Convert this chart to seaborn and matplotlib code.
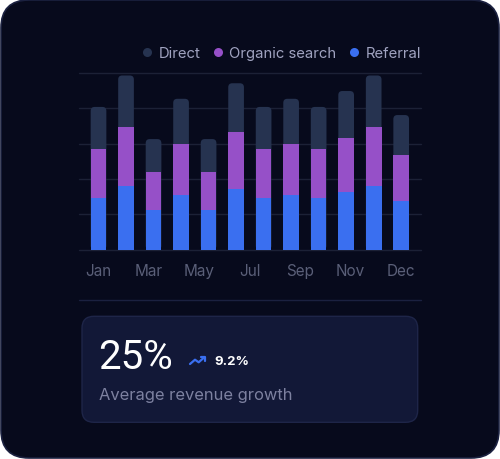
"""Traffic sources by month: stacked bars on a dark card, with a KPI tile below."""

import matplotlib

matplotlib.use("Agg")

import matplotlib.pyplot as plt
import numpy as np
import seaborn as sns
from matplotlib.lines import Line2D
from matplotlib.patches import FancyBboxPatch

MONTHS = ["Jan", "Feb", "Mar", "Apr", "May", "Jun",
          "Jul", "Aug", "Sep", "Oct", "Nov", "Dec"]
TICK_LABELS = ["Jan", "Mar", "May", "Jul", "Sep", "Nov", "Dec"]
REFERRAL = [14.6, 18.0, 11.2, 15.5, 11.2, 17.2, 14.6, 15.5, 14.6, 16.3, 18.0, 13.7]
ORGANIC = [13.8, 16.8, 10.7, 14.4, 10.7, 16.0, 13.8, 14.4, 13.8, 15.3, 16.8, 13.1]
DIRECT = [12.0, 14.5, 9.4, 12.8, 9.4, 13.9, 12.0, 12.8, 12.0, 13.3, 14.5, 11.3]
SERIES = ["Direct", "Organic search", "Referral"]
KPI_VALUE = "25%"
KPI_DELTA = "9.2%"
KPI_LABEL = "Average revenue growth"

CARD = "#070a1c"
CARD_EDGE = "#1b2140"
GRID = "#1c2136"
C_DIRECT = "#263350"
C_ORGANIC = "#9650c8"
C_REFERRAL = "#3a6ff0"
TICK = "#5a5f78"
LEGEND_TXT = "#a0a3c0"

W, H = 500, 460


def main() -> None:
    sns.set_theme(style="white")
    plt.rcParams["font.family"] = ["Inter", "DejaVu Sans"]
    plt.rcParams["patch.edgecolor"] = "none"
    plt.rcParams["patch.linewidth"] = 0

    fig = plt.figure(figsize=(W / 100, H / 100), dpi=100, facecolor="white")

    # background layer in pixel coords (card, separator, KPI tile)
    bg = fig.add_axes([0, 0, 1, 1], zorder=-1)
    bg.set_xlim(0, W)
    bg.set_ylim(H, 0)
    bg.axis("off")
    bg.add_patch(FancyBboxPatch((1, 1), W - 2, H - 2,
                                boxstyle="round,pad=0,rounding_size=28",
                                fc=CARD, ec=CARD_EDGE, lw=1.2))
    bg.plot([78.7, 421], [300.7, 300.7], color=CARD_EDGE, lw=1.0)
    bg.add_patch(FancyBboxPatch((82, 317.3), 335.7, 106,
                                boxstyle="round,pad=0,rounding_size=12",
                                fc="#121837", ec="#1e2548", lw=1.0))
    bg.text(98, 369, KPI_VALUE, fontsize=29, color="white", va="baseline", ha="left",
            family=["Roboto", "DejaVu Sans"])
    # trending-up icon
    bg.plot([190, 195, 198.7, 204.3], [365, 360.7, 363.3, 358.3],
            color=C_REFERRAL, lw=1.6, solid_capstyle="round", solid_joinstyle="round")
    bg.plot([200.7, 204.7, 204.7], [357.7, 357.7, 361.7],
            color=C_REFERRAL, lw=1.6, solid_capstyle="round", solid_joinstyle="round")
    bg.text(214, 365, KPI_DELTA, fontsize=9.5, fontweight="bold", color="white",
            va="baseline", ha="left")
    bg.text(98.7, 400, KPI_LABEL, fontsize=11.9, color="#7d81a0",
            va="baseline", ha="left")

    # chart axes
    left, right, top, bottom = 78.7, 421, 74, 250.7
    ax = fig.add_axes([left / W, 1 - bottom / H, (right - left) / W, (bottom - top) / H])
    ax.set_facecolor("none")

    totals = np.array(REFERRAL) + np.array(ORGANIC) + np.array(DIRECT)
    mid = np.array(REFERRAL) + np.array(ORGANIC)

    sns.barplot(x=MONTHS, y=totals, order=MONTHS, color=C_DIRECT, saturation=1,
                width=0.57, ax=ax, zorder=2, edgecolor="none", linewidth=0)
    xlim = (-0.72, 11.72)
    ylim = (0, 50)
    ax.set_xlim(*xlim)
    ax.set_ylim(*ylim)

    # round the top corners of the stacks
    px_x = (right - left) / (xlim[1] - xlim[0])
    px_y = (bottom - top) / (ylim[1] - ylim[0])
    r = 4.0 / px_x
    for p in list(ax.patches):
        x0, y0 = p.get_x(), p.get_y()
        w, h = p.get_width(), p.get_height()
        p.remove()
        ax.add_patch(FancyBboxPatch((x0, y0), w, h,
                                    boxstyle=f"round,pad=0,rounding_size={r}",
                                    mutation_aspect=px_x / px_y,
                                    fc=C_DIRECT, ec="none", lw=0, zorder=2))

    sns.barplot(x=MONTHS, y=mid, order=MONTHS, color=C_ORGANIC, saturation=1,
                width=0.57, ax=ax, zorder=3, edgecolor="none", linewidth=0)
    sns.barplot(x=MONTHS, y=REFERRAL, order=MONTHS, color=C_REFERRAL, saturation=1,
                width=0.57, ax=ax, zorder=4, edgecolor="none", linewidth=0)
    ax.set_xlim(*xlim)
    ax.set_ylim(*ylim)

    ax.set_yticks(np.arange(0, 51, 10))
    ax.yaxis.grid(True, color=GRID, lw=1.0, zorder=0)
    ax.set_axisbelow(True)
    ax.tick_params(axis="y", left=False, labelleft=False)
    ax.set_xticks(np.linspace(0, len(MONTHS) - 1, len(TICK_LABELS)))
    ax.set_xticklabels(TICK_LABELS)
    ax.tick_params(axis="x", length=0, pad=9.5, labelsize=11, labelcolor=TICK)
    ax.set_xlabel("")
    ax.set_ylabel("")
    for s in ax.spines.values():
        s.set_visible(False)
    for gl in ax.get_ygridlines():
        gl.set_clip_on(False)

    handles = [Line2D([], [], marker="o", ls="none", markersize=6.5,
                      markerfacecolor=c, markeredgecolor="none")
               for c in (C_DIRECT, C_ORGANIC, C_REFERRAL)]
    ax.legend(handles, SERIES, loc="center right",
              bbox_to_anchor=(1.0, 1 + 20 / (bottom - top)),
              ncol=3, frameon=False, fontsize=10.7, labelcolor=LEGEND_TXT,
              handlelength=0.6, handletextpad=0.5, columnspacing=0.85,
              borderpad=0, borderaxespad=0)

    fig.savefig("out.png", dpi=100, facecolor="white")


if __name__ == "__main__":
    main()
